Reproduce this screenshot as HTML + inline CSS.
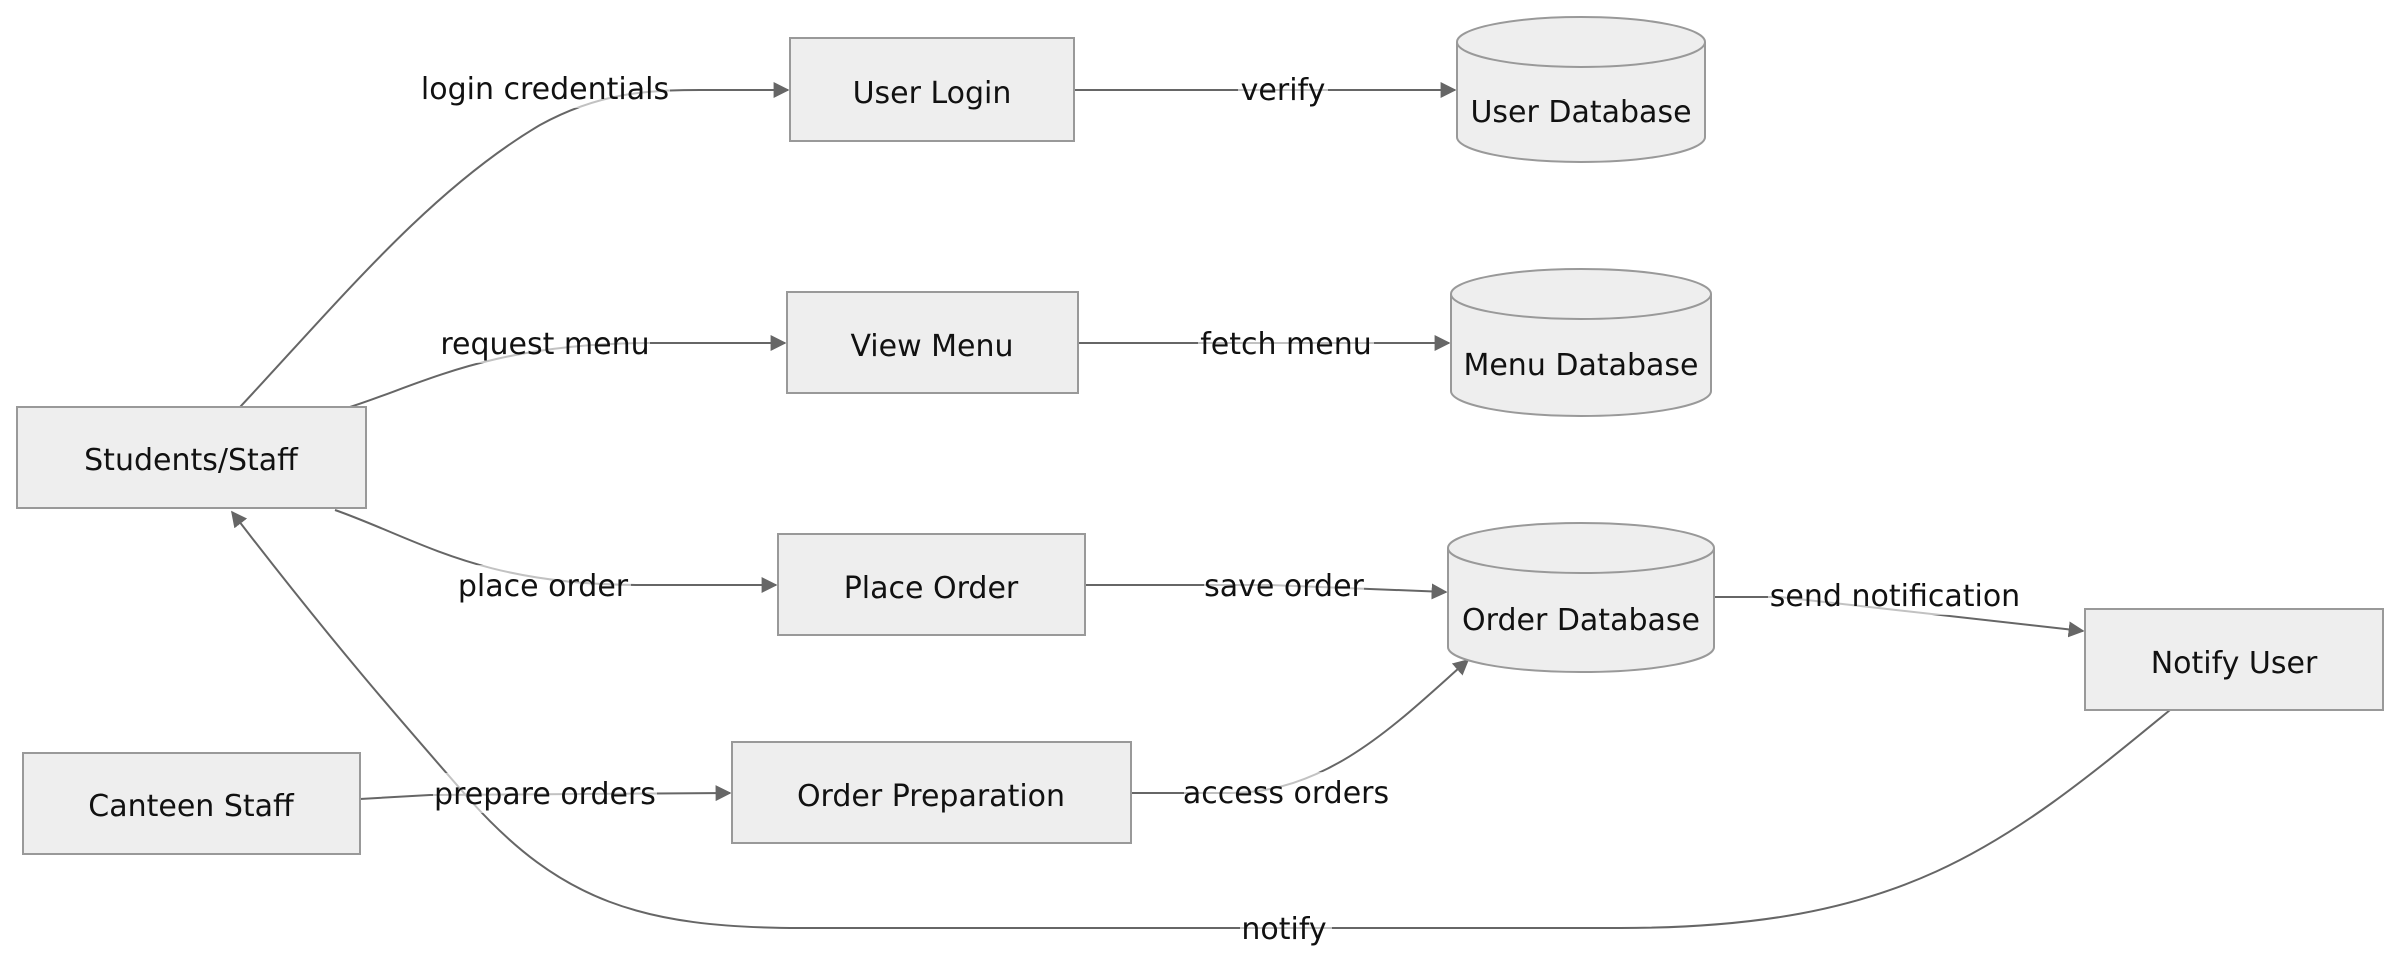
<!DOCTYPE html>
<html><head><meta charset="utf-8"><style>
html,body{margin:0;padding:0;background:#fff;width:2400px;height:968px;overflow:hidden}
svg{display:block}
text{font-family:"DejaVu Sans","Liberation Sans",sans-serif;font-size:30px;fill:#111}
.n{fill:#eeeeee;stroke:#999;stroke-width:2}
.e{fill:none;stroke:#666;stroke-width:2}
.lb{fill:#fff;opacity:0.6}
</style></head><body>
<svg width="2400" height="968" viewBox="0 0 2400 968">
<defs>
<marker id="ah" viewBox="0 0 10 10" refX="9" refY="5" markerWidth="16" markerHeight="16" markerUnits="userSpaceOnUse" orient="auto"><path d="M0,0L10,5L0,10z" fill="#666"/></marker></defs>

<!-- edges -->
<path class="e" d="M240,407 C340,300 430,190 540,125 C600,92 650,90 700,90 L788,90" marker-end="url(#ah)"/>
<path class="e" d="M350,407 C420,385 490,343 650,343 L785,343" marker-end="url(#ah)"/>
<path class="e" d="M335,510 C420,540 480,585 640,585 L776,585" marker-end="url(#ah)"/>
<path class="e" d="M360,799 L430,795 L730,793" marker-end="url(#ah)"/>
<path class="e" d="M1074,90 L1455,90" marker-end="url(#ah)"/>
<path class="e" d="M1078,343 L1449,343" marker-end="url(#ah)"/>
<path class="e" d="M1085,585 L1270,585 L1446,592" marker-end="url(#ah)"/>
<path class="e" d="M1131,793 L1230,793 C1330,793 1400,720 1468,660" marker-end="url(#ah)"/>
<path class="e" d="M1714,597 L1780,597 L2083,631" marker-end="url(#ah)"/>
<path class="e" d="M2170,710 C2000,850 1900,928 1620,928 L800,928 C640,928 560,900 470,800 C400,720 330,640 232,512" marker-end="url(#ah)"/>

<!-- edge labels -->
<g text-anchor="middle">
<rect class="lb" x="420" y="68" width="250" height="40"/><text x="545" y="99">login credentials</text>
<rect class="lb" x="440" y="323" width="210" height="40"/><text x="545" y="354">request menu</text>
<rect class="lb" x="455" y="565" width="176" height="40"/><text x="543" y="596">place order</text>
<rect class="lb" x="433" y="773" width="224" height="40"/><text x="545" y="804">prepare orders</text>
<rect class="lb" x="1238" y="70" width="90" height="40"/><text x="1283" y="100">verify</text>
<rect class="lb" x="1198" y="323" width="176" height="40"/><text x="1286" y="354">fetch menu</text>
<rect class="lb" x="1204" y="565" width="160" height="40"/><text x="1284" y="596">save order</text>
<rect class="lb" x="1184" y="772" width="204" height="40"/><text x="1286" y="803">access orders</text>
<rect class="lb" x="1768" y="575" width="254" height="40"/><text x="1895" y="606">send notification</text>
<rect class="lb" x="1240" y="908" width="92" height="40"/><text x="1284" y="939">notify</text>
</g>

<!-- nodes -->
<rect class="n" x="790" y="38" width="284" height="103"/>
<rect class="n" x="787" y="292" width="291" height="101"/>
<rect class="n" x="778" y="534" width="307" height="101"/>
<rect class="n" x="732" y="742" width="399" height="101"/>
<rect class="n" x="17" y="407" width="349" height="101"/>
<rect class="n" x="23" y="753" width="337" height="101"/>
<rect class="n" x="2085" y="609" width="298" height="101"/>

<g>
<path class="n" d="M1457,42 A124,25 0 0 1 1705,42 L1705,137 A124,25 0 0 1 1457,137 Z"/>
<path class="n" style="fill:none" d="M1457,42 A124,25 0 0 0 1705,42"/>
<path class="n" d="M1451,294 A130,25 0 0 1 1711,294 L1711,391 A130,25 0 0 1 1451,391 Z"/>
<path class="n" style="fill:none" d="M1451,294 A130,25 0 0 0 1711,294"/>
<path class="n" d="M1448,548 A133,25 0 0 1 1714,548 L1714,647 A133,25 0 0 1 1448,647 Z"/>
<path class="n" style="fill:none" d="M1448,548 A133,25 0 0 0 1714,548"/>
</g>

<g text-anchor="middle">
<text x="932" y="103">User Login</text>
<text x="932" y="356">View Menu</text>
<text x="931" y="598">Place Order</text>
<text x="931" y="806">Order Preparation</text>
<text x="191" y="470">Students/Staff</text>
<text x="191" y="816">Canteen Staff</text>
<text x="2234" y="673">Notify User</text>
<text x="1581" y="122">User Database</text>
<text x="1581" y="375">Menu Database</text>
<text x="1581" y="630">Order Database</text>
</g>
</svg>
</body></html>
